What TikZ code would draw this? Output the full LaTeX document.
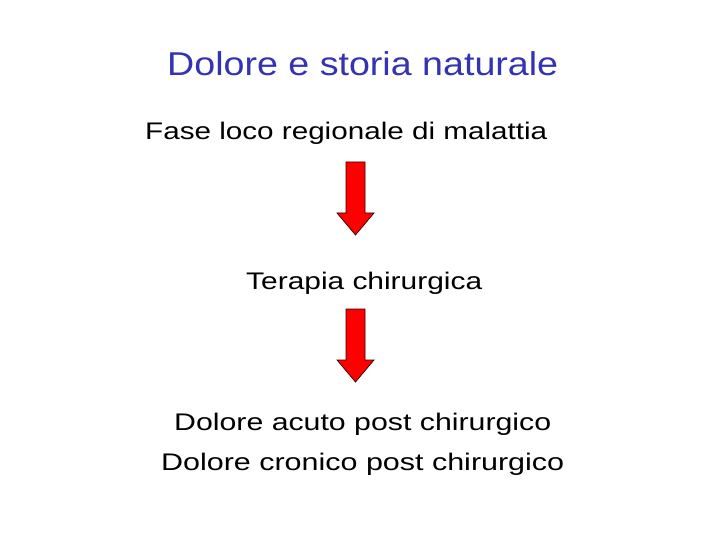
\documentclass[tikz,border=0pt]{standalone}
\usepackage{fontspec}
\setmainfont{Liberation Sans}
\definecolor{titleblue}{RGB}{51,51,179}
\begin{document}
\begin{tikzpicture}[x=1pt,y=-1pt,
  txt/.style={inner sep=0pt,anchor=base west,text=black},
  fat/.style={fill=red,draw=black!80!red,line width=0.7pt,line join=miter}]
\useasboundingbox[fill=white] (0,0) rectangle (720,540);
\node[txt,text=titleblue,font=\fontsize{33}{36}\selectfont] (title) at (167,76) {\resizebox{391pt}{\height}{Dolore e storia naturale}};
\node[txt,font=\fontsize{24}{28}\selectfont] (fase) at (145,140) {\resizebox{402pt}{\height}{Fase loco regionale di malattia}};
\node[txt,font=\fontsize{24}{28}\selectfont] (ter) at (246,289) {\resizebox{236pt}{\height}{Terapia chirurgica}};
\node[txt,font=\fontsize{24}{28}\selectfont] (acuto) at (174,430) {\resizebox{377pt}{\height}{Dolore acuto post chirurgico}};
\node[txt,font=\fontsize{24}{28}\selectfont] (cron) at (161,470) {\resizebox{403pt}{\height}{Dolore cronico post chirurgico}};
\coordinate (a1) at (355.5,162);
\coordinate (a2) at (355.5,309);
\foreach \c in {a1,a2}{
  \draw[fat] (\c) ++(-9.5,0) -- ++(19,0) -- ++(0,51) -- ++(9,0) -- ++(-18.5,22) -- ++(-18.5,-22) -- ++(9,0) -- cycle;
}
\end{tikzpicture}
\end{document}
